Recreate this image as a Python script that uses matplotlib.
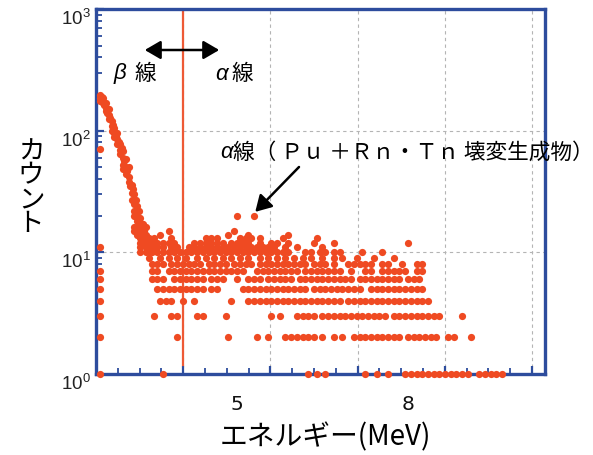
import numpy as np
import matplotlib
matplotlib.use("Agg")
import matplotlib.pyplot as plt
from matplotlib.ticker import FixedLocator, LogLocator, NullFormatter

JP = ["Noto Sans CJK JP", "DejaVu Sans"]
ORANGE = "#ef4a22"
BLUE = "#2d4c9d"
W, H = 593, 455

plt.rcParams["mathtext.fontset"] = "custom"
plt.rcParams["mathtext.rm"] = "Liberation Sans"
plt.rcParams["mathtext.it"] = "Liberation Sans:italic"

CH_WIDTH = 0.05  # MeV per channel

# counts per channel, grouped by count level (channel numbers)
ch_c1 = [52, 74, 125, 128, 131, 145, 149, 153, 159, 161, 163, 165, 167, 169, 171,
         173, 175, 177, 179, 181, 185, 187, 189, 191, 193]
ch_c2 = [52, 79, 97, 107, 111, 117, 119, 121, 123, 125, 127, 130, 134, 137, 141, 143,
         145, 147, 149, 151, 153, 155, 157, 160, 162, 164, 166, 168, 170, 174, 176, 182]
ch_c3 = [52, 71, 77, 79, 86, 88, 96, 112, 115, 121, 123, 125, 127, 130, 132, 134, 136,
         138, 140, 142, 144, 146, 148, 150, 152, 155, 157, 159, 161, 163, 165, 167, 169,
         171, 179]
ch_c4 = [52, 73, 75, 77, 81, 85, 98, 104, 106, 108, 110, 112, 114, 116, 118, 120, 122,
         124, 126, 128, 130, 132, 134, 136, 139, 141, 143, 145, 147, 149, 151, 153, 155,
         157, 159, 161, 163, 165, 167]
ch_c5 = [52, 72, 74, 76, 78, 80, 82, 84, 86, 88, 91, 93, 102, 104, 106, 108, 110, 112,
         114, 116, 118, 120, 122, 124, 127, 129, 131, 133, 135, 137, 139, 141, 143, 147,
         149, 151, 153, 155, 157, 159, 161, 163, 165]
ch_c6 = [52, 70, 72, 74, 78, 80, 82, 84, 86, 88, 91, 93, 95, 100, 104, 106, 108, 111,
         113, 115, 117, 119, 122, 124, 126, 128, 130, 132, 134, 136, 138, 140, 143, 145,
         147, 149, 151, 153, 155, 157, 160, 162, 164]
ch_c7 = [52, 70, 72, 76, 78, 80, 82, 84, 86, 88, 90, 92, 94, 96, 98, 100, 102, 107, 109,
         111, 113, 115, 117, 119, 121, 124, 126, 128, 130, 132, 134, 136, 140, 145, 147,
         151, 153, 155, 157, 159, 163, 165]
ch_c8 = [70, 72, 74, 77, 79, 81, 83, 85, 87, 90, 92, 94, 96, 99, 101, 103, 105, 108, 110,
         112, 114, 116, 118, 120, 122, 124, 127, 129, 131, 134, 139, 141, 143, 145, 147,
         151, 153, 158, 163, 165]
ch_c9 = [69, 73, 76, 79, 82, 86, 89, 92, 95, 98, 101, 104, 108, 111, 114, 117, 120, 123,
         126, 130, 134, 137, 142, 148, 155]
ch_c10 = [66, 68, 70, 72, 74, 76, 78, 80, 82, 84, 86, 88, 90, 92, 94, 96, 98, 100, 102,
          104, 106, 108, 110, 112, 114, 116, 118, 124, 126, 129, 131, 134, 136, 144, 151]
ch_c11 = [52, 66, 68, 70, 72, 74, 77, 79, 83, 85, 87, 89, 91, 93, 95, 97, 99, 101, 103,
          105, 107, 109, 111, 113, 117, 121, 130]
ch_c12 = [66, 68, 70, 72, 74, 76, 78, 85, 87, 89, 91, 93, 95, 98, 100, 102, 104, 108, 112,
          114, 118, 127, 134, 160]
ch_c13 = [67, 69, 71, 77, 89, 91, 93, 101, 103, 105, 108, 116, 128]
ch_c14 = [65, 67, 73, 97, 104, 118]
ch_c15 = [64, 66, 76, 99]
ch_c16 = [64, 68]
ch_c20 = [100, 106]

# beta continuum (channel, count)
beta_ch = [52, 52, 52, 52, 52.5, 53, 53, 53.5, 54, 54, 54, 54.5, 55, 55, 55, 55.5,
           56, 56, 56, 56.5, 57, 57, 57, 57.5, 58, 58, 58, 58.5, 59, 59, 59, 59.5,
           60, 60, 60, 60, 60.5, 61, 61, 61, 61.5, 62, 62, 62, 62.5, 63, 63, 63, 63.5,
           64, 64, 64, 64, 64.5, 65, 65, 65, 65, 65.5, 66, 66, 66, 66, 66.5,
           67, 67, 67, 67, 67.5, 68, 68, 68, 68.5, 69, 69, 69, 69.5]
beta_cnt = [195, 185, 175, 71, 190, 185, 170, 162, 168, 155, 145, 140, 150, 135, 125,
            128, 120, 110, 100, 112, 105, 95, 88, 90, 95, 85, 78, 80, 78, 70, 64, 72,
            68, 60, 52, 48, 56, 58, 50, 44, 47, 50, 42, 38, 35, 36, 31, 27, 33,
            30, 25, 22, 20, 27, 24, 20, 18, 16, 22, 19, 16, 14, 13, 17,
            17, 14, 13, 12, 15, 14, 13, 11, 12, 12, 11, 10, 11]

rows = {1: ch_c1, 2: ch_c2, 3: ch_c3, 4: ch_c4, 5: ch_c5, 6: ch_c6, 7: ch_c7,
        8: ch_c8, 9: ch_c9, 10: ch_c10, 11: ch_c11, 12: ch_c12, 13: ch_c13,
        14: ch_c14, 15: ch_c15, 16: ch_c16, 20: ch_c20}

energy = [c * CH_WIDTH for c in beta_ch]
counts = list(beta_cnt)
for cnt, chans in rows.items():
    energy += [c * CH_WIDTH for c in chans]
    counts += [cnt] * len(chans)

BOUNDARY = 4.055   # beta / alpha boundary (MeV)
GRID_STEP = 1.53   # MeV between grid lines
X_MIN, X_MAX = 2.526, 10.404
label_ticks = [5, 8]

fig = plt.figure(figsize=(W / 100, H / 100), dpi=100)
ax = fig.add_axes([96 / W, 1 - 374 / H, (545 - 96) / W, (374 - 9) / H])

ax.scatter(energy, counts, s=27, color=ORANGE, linewidths=0, zorder=4, clip_on=False)
ax.axvline(BOUNDARY, ymin=0.025, ymax=1, color="#ee5a36", lw=1.6, zorder=3)

ax.set_yscale("log")
ax.set_ylim(1, 1000)
ax.set_xlim(X_MIN, X_MAX)

grid_pos = BOUNDARY + GRID_STEP * np.arange(5)
minor_pos = X_MIN + GRID_STEP / 4 * np.arange(1, 21)
ax.xaxis.set_major_locator(FixedLocator(grid_pos))
ax.xaxis.set_minor_locator(FixedLocator(minor_pos))
ax.xaxis.set_major_formatter(NullFormatter())
ax.tick_params(axis="x", which="major", direction="in", length=6, width=1.6, color=BLUE)
ax.tick_params(axis="x", which="minor", direction="in", length=4, width=1.3, color=BLUE)

ax.yaxis.set_major_locator(FixedLocator([1, 10, 100, 1000]))
ax.set_yticklabels([r"$10^{0}$", r"$10^{1}$", r"$10^{2}$", r"$10^{3}$"])
ax.yaxis.set_minor_locator(LogLocator(base=10, subs=np.arange(2, 10)))
ax.yaxis.set_minor_formatter(NullFormatter())
ax.tick_params(axis="y", which="major", direction="in", length=6, width=1.6, color=BLUE,
               labelsize=13.5, labelcolor="#222222", pad=4)
ax.tick_params(axis="y", which="minor", direction="in", length=4, width=1.3, color=BLUE)
for lbl in ax.get_yticklabels():
    lbl.set_va("top")

ax.grid(True, which="major", color="#b4b4b4", ls=(0, (3, 3)), lw=0.8)
ax.set_axisbelow(True)

for sp in ax.spines.values():
    sp.set_color(BLUE)
    sp.set_linewidth(2.4)
    sp.set_zorder(3.5)

sec = ax.secondary_xaxis("bottom")
sec.set_xticks(label_ticks)
sec.set_xticklabels([str(t) for t in label_ticks])
sec.tick_params(length=0, pad=15, labelsize=14.5, labelcolor="#111111")
sec.spines["bottom"].set_visible(False)


def fp(x, y):
    return x / W, 1 - y / H


fig.text(*fp(31, 188), "\n".join("カウント"), family=JP, fontsize=19,
         ha="center", va="center", linespacing=0.85)
fig.text(*fp(325, 437), "エネルギー(MeV)", family=JP, fontsize=20,
         ha="center", va="center")

# beta / alpha region labels
fig.text(*fp(120, 74), "β", family=["Liberation Sans", "DejaVu Sans"], style="italic",
         fontsize=16, ha="center", va="center")
fig.text(*fp(145, 74), "線", family=JP, fontsize=15.5, ha="center", va="center")
fig.text(*fp(222, 74), "α", family=["Liberation Sans", "DejaVu Sans"], style="italic",
         fontsize=16, ha="center", va="center")
fig.text(*fp(242, 74), "線", family=JP, fontsize=15.5, ha="center", va="center")
fig.add_artist(matplotlib.patches.FancyArrowPatch(
    fp(142, 50), fp(222, 50), transform=fig.transFigure,
    arrowstyle="<|-|>,head_length=0.6,head_width=0.35", mutation_scale=16,
    color="black", lw=1.8))

fig.text(*fp(227, 153), "α", family=["Liberation Sans", "DejaVu Sans"], style="italic",
         fontsize=16, ha="center", va="center")
fig.text(*fp(233, 153), "線（ Ｐｕ ＋Ｒｎ・Ｔｎ 壊変生成物）", family=JP, fontsize=15.6,
         ha="left", va="center", zorder=5)

ax.annotate("", xy=(106 * CH_WIDTH + 0.02, 21.5), xycoords="data",
            xytext=(299, H - 167), textcoords="figure pixels",
            arrowprops=dict(arrowstyle="-|>,head_length=0.6,head_width=0.35",
                            mutation_scale=16, color="black", lw=1.8,
                            shrinkA=0, shrinkB=0))

fig.savefig("out.png", dpi=100)
